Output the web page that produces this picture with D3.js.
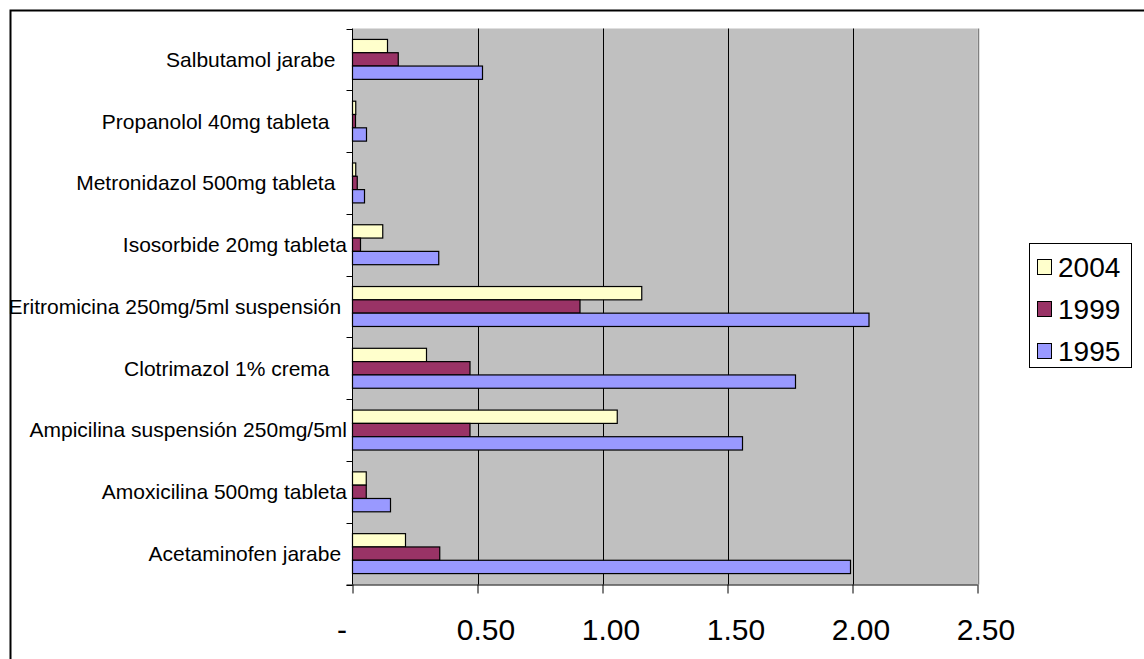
<!DOCTYPE html>
<html>
<head>
<meta charset="utf-8">
<script src="https://cdn.jsdelivr.net/npm/d3@7"></script>
<style>
  body { margin: 0; background: #fff; }
  svg { display: block; }
  text { font-family: "Liberation Sans", Arial, sans-serif; fill: #000; }
</style>
</head>
<body>
<svg id="chart" width="1144" height="659"></svg>
<script>
// Categories, top to bottom (trailing spaces are part of the original labels)
const categories = [
  "Salbutamol jarabe  ",
  "Propanolol 40mg tableta   ",
  "Metronidazol 500mg tableta  ",
  "Isosorbide 20mg tableta",
  "Eritromicina 250mg/5ml suspensión ",
  "Clotrimazol 1% crema   ",
  "Ampicilina suspensión 250mg/5ml",
  "Amoxicilina 500mg tableta",
  "Acetaminofen jarabe "
];
const years = ["2004", "1999", "1995"];
const values2004 = [0.14, 0.013, 0.013, 0.121, 1.157, 0.296, 1.059, 0.055, 0.212];
const values1999 = [0.183, 0.012, 0.019, 0.032, 0.91, 0.47, 0.47, 0.055, 0.349];
const values1995 = [0.52, 0.056, 0.048, 0.345, 2.066, 1.772, 1.56, 0.152, 1.992];
const xTicks = [0, 0.5, 1.0, 1.5, 2.0, 2.5];
const colors = ["#FFFFCC", "#993366", "#9999FF"];

const seriesValues = { "2004": values2004, "1999": values1999, "1995": values1995 };
const rows = categories.map((c, i) => ({
  category: c,
  bars: years.map((yr, j) => ({ year: yr, value: seriesValues[yr][i], color: colors[j] }))
}));

const svg = d3.select("#chart");

// Outer chart frame
svg.append("rect")
  .attr("x", 10.5).attr("y", 10.5)
  .attr("width", 1300).attr("height", 800)
  .attr("fill", "none").attr("stroke", "#000").attr("stroke-width", 2);

const plot = { left: 352.5, right: 977.5, top: 28.5, bottom: 584.5 };

const x = d3.scaleLinear().domain([0, 2.5]).range([plot.left, plot.right]);
const y = d3.scaleBand().domain(categories).range([plot.top, plot.bottom]).padding(0);
const yInner = d3.scaleBand().domain(years).range([0, y.bandwidth()])
  .paddingInner(0).paddingOuter(0.82);

// Plot area background
svg.append("rect")
  .attr("x", x(0)).attr("y", plot.top)
  .attr("width", x(2.5) - x(0)).attr("height", plot.bottom - plot.top)
  .attr("fill", "#C0C0C0");

// Vertical gridlines
svg.append("g").selectAll("line")
  .data(xTicks.filter(d => d > 0 && d < 2.5))
  .join("line")
  .attr("x1", d => Math.round(x(d)) + 0.5).attr("x2", d => Math.round(x(d)) + 0.5)
  .attr("y1", plot.top).attr("y2", plot.bottom)
  .attr("stroke", "#000").attr("stroke-width", 1);

// Right edge of plot area
svg.append("line")
  .attr("x1", Math.round(x(2.5)) + 0.5).attr("x2", Math.round(x(2.5)) + 0.5)
  .attr("y1", plot.top).attr("y2", plot.bottom)
  .attr("stroke", "#808080").attr("stroke-width", 1.5);

// Bars
const groups = svg.append("g").selectAll("g")
  .data(rows)
  .join("g")
  .attr("transform", d => `translate(0,${y(d.category)})`);

groups.selectAll("rect")
  .data(d => d.bars)
  .join("rect")
  .attr("x", x(0))
  .attr("y", d => yInner(d.year))
  .attr("width", d => x(d.value) - x(0))
  .attr("height", yInner.bandwidth())
  .attr("fill", d => d.color)
  .attr("stroke", "#000")
  .attr("stroke-width", 1.2);

// Category axis: line, boundary ticks, labels
const yAxis = svg.append("g");
yAxis.append("line")
  .attr("x1", plot.left).attr("x2", plot.left)
  .attr("y1", plot.top).attr("y2", plot.bottom)
  .attr("stroke", "#000");
const boundaries = categories.map(c => y(c)).concat([plot.bottom]);
yAxis.selectAll("line.tick")
  .data(boundaries)
  .join("line")
  .attr("class", "tick")
  .attr("x1", plot.left - 6).attr("x2", plot.left)
  .attr("y1", d => Math.round(d) + 0.5).attr("y2", d => Math.round(d) + 0.5)
  .attr("stroke", "#000");
yAxis.selectAll("text")
  .data(categories)
  .join("text")
  .attr("x", plot.left - 5.5)
  .attr("y", d => y(d) + y.bandwidth() / 2)
  .attr("dy", "0.35em")
  .attr("text-anchor", "end")
  .style("white-space", "pre")
  .style("font-size", "21px")
  .text(d => d);

// Value axis
const xAxis = svg.append("g")
  .attr("transform", `translate(0,${plot.bottom})`)
  .call(d3.axisBottom(x)
    .tickValues(xTicks)
    .tickSize(9)
    .tickSizeOuter(0)
    .tickFormat(d => d === 0 ? "-" : d3.format(".2f")(d)));
xAxis.select(".domain").attr("stroke", "#000").attr("d", `M${plot.left - 6},0.5H${plot.right}`);
xAxis.selectAll(".tick line").attr("stroke", "#000");
xAxis.selectAll(".tick text")
  .attr("y", 55).attr("dy", 0)
  .attr("dx", d => d === 0 ? -11 : 8)
  .style("font-size", "30px")
  .style("font-family", '"Liberation Sans", Arial, sans-serif')
  .attr("fill", "#000");

// Legend
const legend = svg.append("g");
legend.append("rect")
  .attr("x", 1029.5).attr("y", 243.5)
  .attr("width", 102).attr("height", 124)
  .attr("fill", "#fff").attr("stroke", "#000").attr("stroke-width", 1);
const items = legend.selectAll("g.item")
  .data(years)
  .join("g")
  .attr("class", "item")
  .attr("transform", (d, i) => `translate(0,${267 + i * 42})`);
items.append("rect")
  .attr("x", 1037.5).attr("y", -7.5)
  .attr("width", 14).attr("height", 15)
  .attr("fill", (d, i) => colors[i])
  .attr("stroke", "#000");
items.append("text")
  .attr("x", 1058).attr("y", 10)
  .style("font-size", "28px")
  .text(d => d);
</script>
</body>
</html>
